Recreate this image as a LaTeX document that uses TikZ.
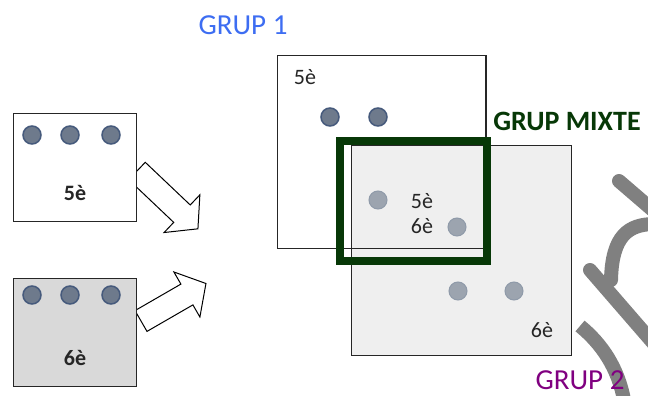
\documentclass[tikz,border=0pt]{standalone}
\usepackage{fontspec}
\setmainfont{Carlito}
\definecolor{dotfill}{HTML}{6E7A8C}
\definecolor{dotrim}{HTML}{465A7C}
\definecolor{mixfill}{HTML}{9CA4AF}
\definecolor{mixrim}{HTML}{8F9AA9}
\definecolor{sixgray}{HTML}{D9D9D9}
\definecolor{grup2gray}{HTML}{EFEFEF}
\definecolor{grupblue}{HTML}{3D6DF2}
\definecolor{grupgreen}{HTML}{073807}
\definecolor{gruppurple}{HTML}{800080}
\newcommand{\blockarrow}[4]{% tail x, tail y, angle, length
  \begin{scope}[shift={(#1,#2)},rotate=#3]
    \draw[line width=1pt,fill=white,line join=miter]
      (0,-12) -- ({#4-22},-12) -- ({#4-22},-26) -- (#4,0)
      -- ({#4-22},26) -- ({#4-22},12) -- (0,12) -- cycle;
  \end{scope}}
\begin{document}
\begin{tikzpicture}[x=1pt,y=-1pt,
  box/.style={draw=black!85,line width=1pt,inner sep=0pt},
  pupil/.style={circle,fill=dotfill,draw=dotrim,line width=1.5pt,
    minimum size=18pt,inner sep=0pt},
  mixpupil/.style={circle,fill=mixfill,draw=mixrim,line width=1pt,
    minimum size=18pt,inner sep=0pt},
  level/.style={font=\fontsize{22}{22}\selectfont,text=black!85},
  grup/.style={font=\fontsize{29}{29}\selectfont}]
  \useasboundingbox (0,0) rectangle (648,396);
  \fill[white] (0,0) rectangle (648,396);
  % arrows out of the two classes
  \blockarrow{137}{171}{-43.5}{84}
  \blockarrow{141}{321}{30}{75}
  % the two classes
  \node[box,fill=white,minimum width=123pt,minimum height=108pt] (cinq) at (74.5,167) {};
  \node[box,fill=sixgray,minimum width=123pt,minimum height=108pt] (sis) at (74.5,332) {};
  \foreach \x [count=\i] in {32,70,111} {
    \node[pupil] (c\i) at (\x,135) {};
    \node[pupil] (s\i) at (\x,295) {};
  }
  \node[level,font=\bfseries\fontsize{22}{22}\selectfont] at (75,193) {5è};
  \node[level,font=\bfseries\fontsize{22}{22}\selectfont] at (75,358) {6è};
  % grup 1 and grup 2
  \node[box,fill=white,minimum width=208pt,minimum height=192pt] (g1) at (381.5,152) {};
  \node[box,fill=grup2gray,minimum width=220pt,minimum height=210pt] (g2) at (461.5,250) {};
  \draw[black!85,line width=1pt] (g1.north west) rectangle (g1.south east);
  \node[level] at (305,77) {5è};
  \node[pupil] (g1a) at (330,117) {};
  \node[pupil] (g1b) at (378,117) {};
  \node[mixpupil] (m1) at (378,200) {};
  \node[mixpupil] (m2) at (457,227) {};
  \node[mixpupil] (g2a) at (458,291) {};
  \node[mixpupil] (g2b) at (514,291) {};
  \node[level] at (422,201) {5è};
  \node[level] at (422,226) {6è};
  \node[level] at (542,330) {6è};
  % mixed group frame
  \draw[grupgreen,line width=8pt] (340,141) rectangle (486.5,261);
  % logo fragment
  \begin{scope}[gray,line width=14pt,line cap=round]
    \draw (619,181) -- (655,212);
    \draw (655,224) .. controls (628,224) and (612,236) .. (611,280);
    \draw (590,270) -- (655,345);
    \draw[line cap=butt] (580,326) .. controls (602,344) and (618,368) .. (624,400);
  \end{scope}
  \node[grup,text=grupblue] (t1) at (243,25) {GRUP 1};
  \node[grup,text=grupgreen,font=\bfseries\fontsize{28}{28}\selectfont] (tm) at (567,121) {GRUP MIXTE};
  \node[grup,text=gruppurple,inner sep=1pt] (t2) at (580,380) {GRUP 2};
\end{tikzpicture}
\end{document}
